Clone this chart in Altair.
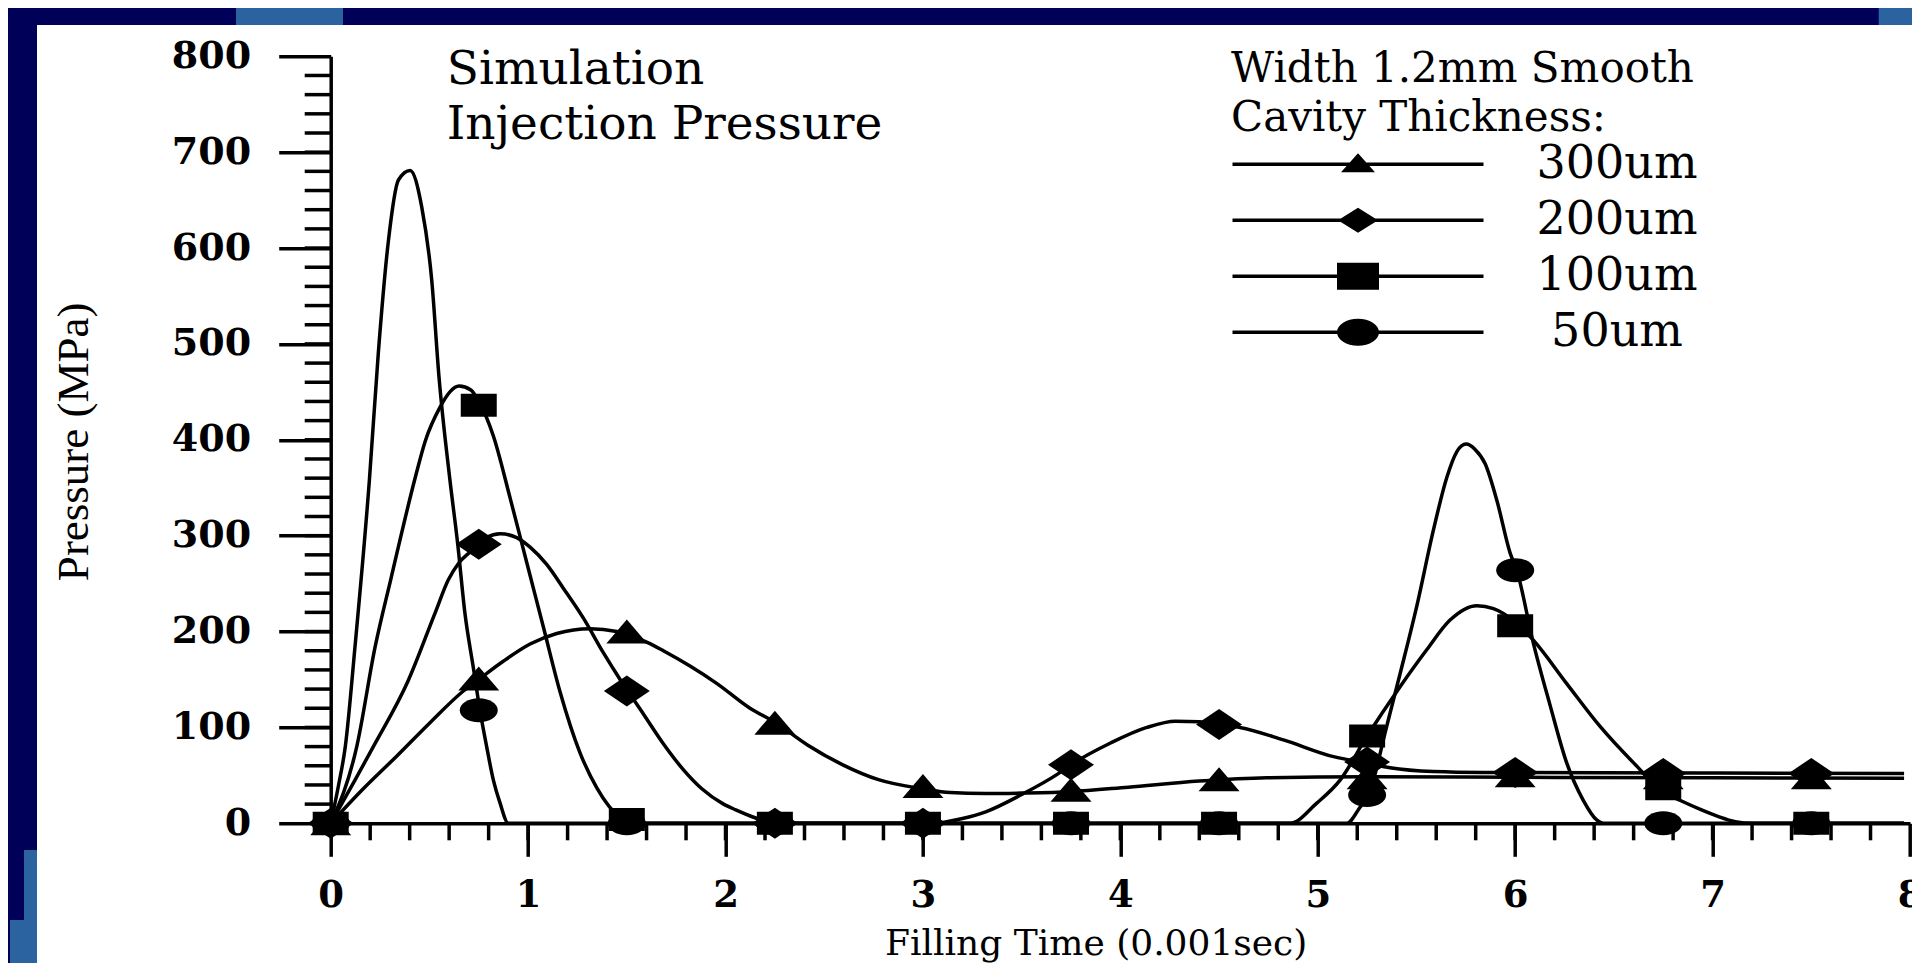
import altair as alt
import pandas as pd

# ---------------- data ----------------
series = ["300um", "200um", "100um", "50um"]

# smooth curves (time in 0.001 s, pressure in MPa)
t300 = [0, 0.165, 0.334, 0.503, 0.672, 0.756, 0.874, 1.01, 1.145, 1.314, 1.449, 1.6, 1.685,
        1.82, 1.955, 2.124, 2.253, 2.413, 2.594, 2.775, 3.0, 3.137, 3.318, 3.5, 3.75, 4.04,
        4.4, 4.741, 5.25, 6.0, 7.0, 7.97]
v300 = [0, 36, 70, 105, 138, 151, 169, 187, 198, 203, 200, 189, 180,
        164, 146, 120, 105, 82, 61, 45.5, 36, 32, 31, 31.5, 33, 37.7,
        44, 47.5, 48.5, 48, 47.5, 47]

t200 = [0, 0.123, 0.216, 0.393, 0.528, 0.596, 0.647, 0.706, 0.75, 0.79, 0.858, 0.942, 1.01,
        1.094, 1.179, 1.28, 1.381, 1.466, 1.584, 1.685, 1.786, 1.88, 1.99, 2.052, 2.16, 2.25,
        3.05, 3.2, 3.318, 3.5, 3.68, 3.75, 3.953, 4.134, 4.279, 4.4, 4.5, 4.606, 4.826, 5.08,
        5.257, 5.366, 5.586, 5.84, 6.94, 7.97]
v200 = [0, 45, 80, 149, 219, 254, 271, 283, 291, 298, 302, 298, 288,
        270, 245, 214, 178, 150, 114, 83, 56, 36, 20, 14, 5, 0,
        0, 5, 12, 30, 51, 61, 84, 100, 106.5, 106, 103, 100, 87, 69.5,
        62.5, 58, 54, 53, 52.5, 52]

t100 = [0, 0.132, 0.225, 0.305, 0.43, 0.478, 0.554, 0.604, 0.65, 0.71, 0.75, 0.824, 0.908,
        0.993, 1.077, 1.162, 1.263, 1.348, 1.466, 1.52, 4.86, 4.995, 5.113, 5.25, 5.417,
        5.552, 5.67, 5.806, 5.89, 6.0, 6.092, 6.26, 6.43, 6.6, 6.75, 6.851, 6.944, 7.03,
        7.115, 7.2, 7.97]
v100 = [0, 80, 184, 255, 362, 398, 434, 450, 456, 452, 440, 404, 340,
        272, 205, 137, 73.5, 37, 6, 0, 0, 21, 45, 91, 142.5,
        181, 212, 227, 224, 210, 191, 146, 101, 63, 33, 22.5, 14, 7,
        1.7, 0, 0]

t50 = [0, 0.04, 0.074, 0.123, 0.196, 0.241, 0.292, 0.343, 0.402, 0.461, 0.512, 0.548, 0.604,
       0.643, 0.68, 0.722, 0.756, 0.79, 0.824, 0.858, 0.9, 5.147, 5.215, 5.257, 5.349,
       5.417, 5.501, 5.586, 5.654, 5.704, 5.751, 5.797, 5.848, 5.907, 5.975, 6.008, 6.092,
       6.177, 6.261, 6.345, 6.413, 6.447, 7.97]
v50 = [0, 40, 80, 184, 358, 490, 607, 671, 681, 643, 566, 467, 358,
       292, 219, 163, 118, 80, 45, 21, 0, 0, 17, 29.5, 101,
       156, 226, 306, 361, 387.5, 395.5, 390, 375, 337, 281.5, 264, 188,
       123, 63, 24, 3.5, 0, 0]

# symbols (every 0.75)
marker_t = [0, 0.75, 1.5, 2.25, 3.0, 3.75, 4.5, 5.25, 6.0, 6.75, 7.5]
m300 = [0, 151, 200, 105, 39, 35, 46, 48, 50, 48, 48]
m200 = [0, 291, 138, 0, 0, 61, 103, 64, 53, 52, 52]
m100 = [0, 436, 4, 0, 0, 0, 0, 91, 206, 36, 0]
m50 = [0, 118, 0, 0, 0, 0, 0, 29.5, 264, 0, 0]

x_ticks = [0, 1, 2, 3, 4, 5, 6, 7, 8]
y_ticks = [0, 100, 200, 300, 400, 500, 600, 700, 800]
x_minor = [round(0.2 * i, 1) for i in range(1, 40)]
y_minor = [20 * i for i in range(1, 40)]

legend_title = ["Width 1.2mm Smooth", "Cavity Thickness:"]
chart_title = ["Simulation", "Injection Pressure"]

# ---------------- tables ----------------
line_rows = []
for s, ts, vs in zip(series, [t300, t200, t100, t50], [v300, v200, v100, v50]):
    for t, v in zip(ts, vs):
        line_rows.append({"series": s, "t": t, "v": v})
lines = pd.DataFrame(line_rows)

mark_rows = []
for s, vs in zip(series, [m300, m200, m100, m50]):
    for t, v in zip(marker_t, vs):
        mark_rows.append({"series": s, "t": t, "v": v})
markers = pd.DataFrame(mark_rows)

xminor_df = pd.DataFrame({"t": x_minor})
yminor_df = pd.DataFrame({"v": y_minor})
one = pd.DataFrame({"k": [0]})

# ---------------- layout ----------------
W = 1579.3
H = 767.0
PAD_L = 322.7
PAD_T = 48.3
PAD_R = 1904 - PAD_L - W
PAD_B = 955 - PAD_T - H
NAVY = "#000058"
LIGHT = "#2a63a0"
LW = 3.5

xs = alt.Scale(domain=[0, 8], nice=False, zero=False)
ys = alt.Scale(domain=[0, 800], nice=False)

xaxis = alt.Axis(values=x_ticks, format="d", grid=False, labelFlush=False, labelOverlap=False,
                 labelFont="DejaVu Serif", labelFontWeight="bold", labelFontSize=37,
                 labelColor="black", labelPadding=21, tickSize=33, tickWidth=LW,
                 tickColor="black", domainWidth=LW, domainColor="black",
                 title="Filling Time (0.001sec)", titleFont="DejaVu Serif",
                 titleFontWeight="normal", titleFontSize=36, titleColor="black",
                 titleX=765, titleY=130.7, titleAlign="center", titleBaseline="alphabetic")
yaxis = alt.Axis(values=y_ticks, format="d", grid=False, labelFlush=False, labelOverlap=False,
                 labelFont="DejaVu Serif", labelFontWeight="bold", labelFontSize=38,
                 labelColor="black", labelPadding=28, labelBaseline="middle",
                 tickSize=52, tickWidth=LW, tickColor="black", domainWidth=LW,
                 domainColor="black", title="Pressure (MPa)", titleFont="Liberation Serif",
                 titleFontWeight="normal", titleFontSize=45, titleColor="black",
                 titleAngle=270, titleX=-243, titleY=385, titleAlign="center",
                 titleBaseline="alphabetic")

X = alt.X("t:Q", scale=xs, axis=xaxis)
Y = alt.Y("v:Q", scale=ys, axis=yaxis)

plot_shapes = [
    "M0,-0.6L1.025,0.6L-1.025,0.6Z",
    "M0,-0.775L1.15,0L0,0.775L-1.15,0Z",
    "M-0.9,-0.575L0.9,-0.575L0.9,0.575L-0.9,0.575Z",
    "M-0.95,0A0.95,0.6,0,1,1,0.95,0A0.95,0.6,0,1,1,-0.95,0Z",
]
bar = "M-6.275,-0.085L6.275,-0.085L6.275,0.085L-6.275,0.085Z"
legend_shapes = [
    bar + "M0,-0.55L0.85,0.4L-0.85,0.4Z",
    bar + "M0,-0.625L1.0,0L0,0.625L-1.0,0Z",
    bar + "M-1.05,-0.675L1.05,-0.675L1.05,0.675L-1.05,0.675Z",
    bar + "M-1.05,0A1.05,0.675,0,1,1,1.05,0A1.05,0.675,0,1,1,-1.05,0Z",
]

# ---------------- frame decoration ----------------
def panel(color, x1, x2, y1, y2):
    return alt.Chart(one).mark_rect(color=color).encode(
        x=alt.value(x1), x2=alt.value(x2), y=alt.value(y1), y2=alt.value(y2))

frame = [
    panel(NAVY, -PAD_L, W + PAD_R, -PAD_T, -31.3),
    panel(NAVY, -PAD_L, -293.7, -PAD_T, H + PAD_B),
    panel(LIGHT, -94.7, 12.3, -PAD_T, -31.3),
    panel(LIGHT, 1548, W + PAD_R, -PAD_T, -31.3),
    panel(LIGHT, -306.7, -293.7, 793.7, H + PAD_B),
    panel(LIGHT, -320.7, -306.7, 863.7, H + PAD_B),
]

# ---------------- minor ticks ----------------
xminor = alt.Chart(xminor_df).mark_rule(color="black", strokeWidth=LW).encode(
    x=X, y=alt.value(H), y2=alt.value(H + 17))
yminor = alt.Chart(yminor_df).mark_rule(color="black", strokeWidth=LW).encode(
    y=Y, x=alt.value(-26), x2=alt.value(0))

# ---------------- data layers ----------------
curve = alt.Chart(lines).mark_line(color="black", strokeWidth=LW, interpolate="monotone").encode(
    x=X, y=Y, detail="series:N")

symbols = alt.Chart(markers).mark_point(filled=True, color="black", opacity=1, size=1600).encode(
    x=X, y=Y,
    shape=alt.Shape("series:N", scale=alt.Scale(domain=series, range=plot_shapes), legend=None))

legend_layer = alt.Chart(markers).mark_point(filled=True, color="black", opacity=0, size=1600).encode(
    x=X, y=Y,
    shape=alt.Shape("series:N", scale=alt.Scale(domain=series, range=legend_shapes),
                    legend=alt.Legend(
                        title=legend_title, orient="none", legendX=900.3, legendY=-7.0,
                        padding=0, titleFont="DejaVu Serif", titleFontSize=42,
                        titleFontWeight="normal", titleColor="black", titleLineHeight=49,
                        titleLimit=1000, titlePadding=1, titleAnchor="start",
                        labelFont="DejaVu Serif", labelFontSize=46, labelColor="black",
                        labelAlign="center", labelBaseline="middle", labelOffset=236,
                        labelLimit=600, symbolSize=1600, symbolFillColor="black",
                        symbolStrokeColor="black", symbolStrokeWidth=0, symbolOpacity=1,
                        symbolOffset=104, rowPadding=10)))

chart = alt.layer(
    *frame, xminor, yminor, curve, symbols, legend_layer
).resolve_scale(shape="independent").properties(
    width=W, height=H,
    padding={"left": PAD_L, "top": PAD_T, "right": PAD_R, "bottom": PAD_B},
    autosize=alt.AutoSizeParams(type="none"),
    title=alt.TitleParams(text=chart_title, anchor="start", frame="group", orient="top",
                          offset=0, dx=116, dy=141, baseline="top", font="DejaVu Serif",
                          fontSize=47, fontWeight="normal", color="black", lineHeight=55),
).configure(background="white").configure_view(stroke=None)

chart.save("out.html", embed_options={"renderer": "svg", "actions": False})
